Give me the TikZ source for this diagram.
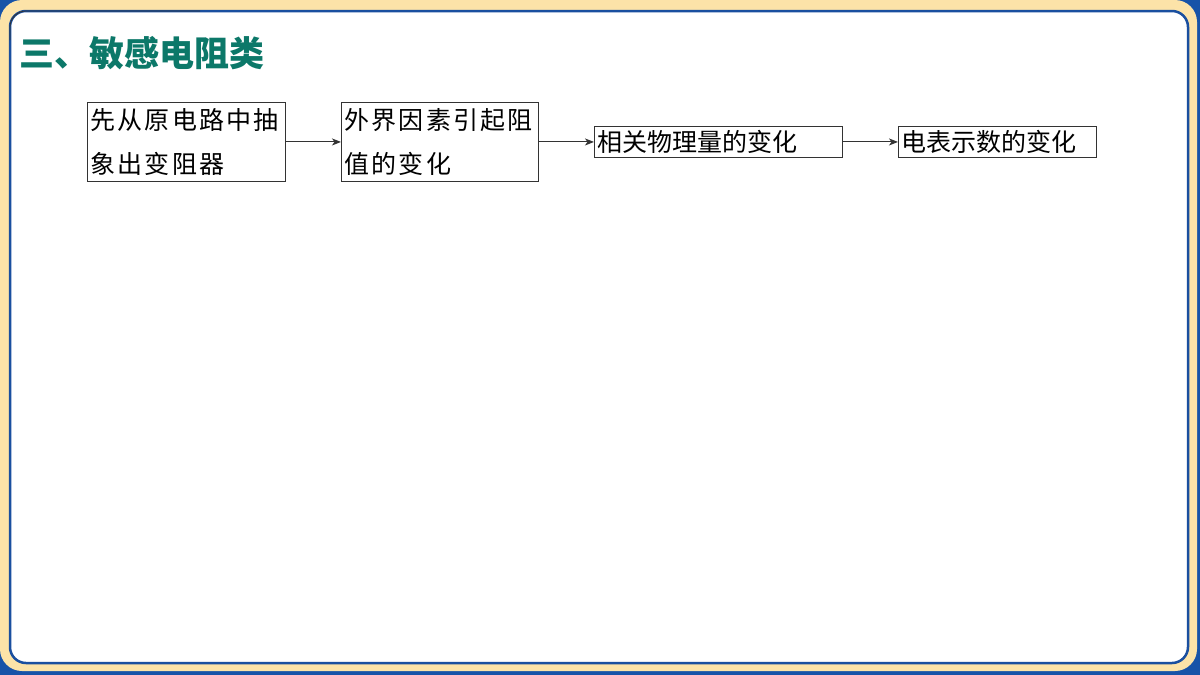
\documentclass[tikz,border=0pt]{standalone}
\usepackage{fontspec}
\newfontfamily\cjk{Noto Sans CJK SC}
\newfontfamily\cjkls[LetterSpace=9]{Noto Sans CJK SC}
\usetikzlibrary{arrows.meta}
\definecolor{bgblue}{HTML}{1753A8}
\definecolor{cream}{HTML}{FCE3A8}
\definecolor{frameblue}{HTML}{1A4F9F}
\definecolor{titleteal}{HTML}{0C7869}
\definecolor{boxline}{HTML}{333333}
\tikzset{
  flowbox/.style={draw=boxline, line width=0.9pt, anchor=north west, inner xsep=3pt, inner ysep=0pt, align=left},
  flowarrow/.style={draw=boxline, line width=1pt, -{Stealth[length=9pt,width=7pt,inset=2.5pt]}}
}
\begin{document}
\begin{tikzpicture}[x=1pt,y=-1pt]
\useasboundingbox (0,0) rectangle (1200,675);
\fill[bgblue] (0,0) rectangle (1200,675);
\fill[cream, rounded corners=22pt] (0,0) rectangle (1197,671);
\draw[frameblue, line width=2.5pt, fill=white, rounded corners=16pt] (10,11) rectangle (1188,663);
\draw[black!80, line width=0.8pt, rounded corners=16pt] (10,40) -- (10,11) -- (200,11);
\node[anchor=west, text=titleteal, font=\cjk\bfseries\fontsize{35}{38}\selectfont, inner sep=0pt] (title) at (19,53) {三、敏感电阻类};
\node[flowbox, text width=192pt, minimum height=79pt, font=\cjkls\fontsize{25}{44}\selectfont] (b1) at (87,102) {先从原电路中抽\\象出变阻器};
\node[flowbox, text width=191pt, minimum height=79pt, font=\cjkls\fontsize{25}{44}\selectfont] (b2) at (341,102) {外界因素引起阻\\值的变化};
\node[flowbox, text width=242pt, minimum height=31pt, font=\cjk\fontsize{25}{30}\selectfont] (b3) at (594,126) {相关物理量的变化};
\node[flowbox, text width=192pt, minimum height=31pt, font=\cjk\fontsize{25}{30}\selectfont] (b4) at (898,126) {电表示数的变化};
\draw[flowarrow] (b1.east) -- (b2.west);
\draw[flowarrow] (b2.east) -- (b3.west);
\draw[flowarrow] (b3.east) -- (b4.west);
\end{tikzpicture}
\end{document}
